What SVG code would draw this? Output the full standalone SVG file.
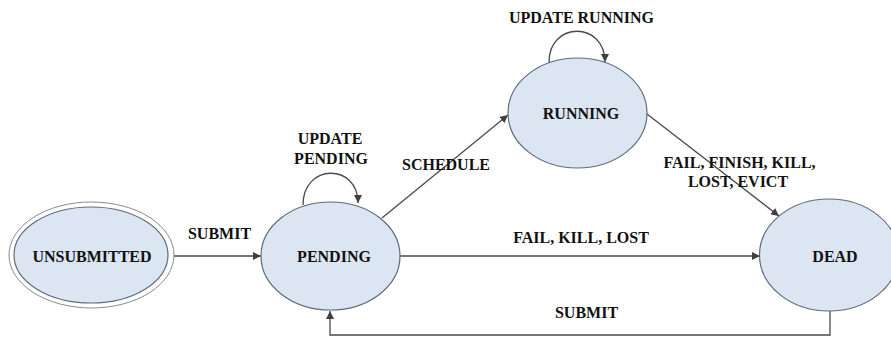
<svg xmlns="http://www.w3.org/2000/svg" width="891" height="338" viewBox="0 0 891 338">
  <defs>
    <marker id="arrow" viewBox="0 0 10 10" refX="10" refY="5" markerWidth="8" markerHeight="8" markerUnits="userSpaceOnUse" orient="auto">
      <path d="M0,0 L10,5 L0,10 Z" fill="#404040"/>
    </marker>
    <style>
      .state { fill: #dce6f2; stroke: #5f6b7a; stroke-width: 1.2; }
      .outer { fill: #ffffff; stroke: #8a8a8a; stroke-width: 1; }
      .edge { fill: none; stroke: #4a4a4a; stroke-width: 1.3; marker-end: url(#arrow); }
      text { font-family: "Liberation Serif", "Times New Roman", serif; font-weight: bold; font-size: 16px; fill: #111111; text-anchor: middle; }
    </style>
  </defs>

  <rect width="891" height="338" fill="#ffffff"/>

  <!-- transitions -->
  <g id="connectors">
    <line class="edge" x1="174" y1="256" x2="261" y2="256"/>
    <path class="edge" d="M303,205 C303,163 358,163 358,203"/>
    <line class="edge" x1="382" y1="218" x2="508" y2="115"/>
    <path class="edge" d="M549,62 C549,21 605,21 605,62"/>
    <line class="edge" x1="400" y1="256" x2="760" y2="256"/>
    <line class="edge" x1="647" y1="114" x2="779" y2="216"/>
    <polyline class="edge" points="830,310 830,335 330,335 330,311"/>
  </g>

  <!-- transition labels -->
  <g id="labels">
    <text x="219.5" y="239">SUBMIT</text>
    <text x="330" y="144">UPDATE</text>
    <text x="331" y="164">PENDING</text>
    <text x="446" y="170">SCHEDULE</text>
    <text x="581.5" y="22.5">UPDATE RUNNING</text>
    <text x="581" y="243">FAIL, KILL, LOST</text>
    <text x="739.5" y="168">FAIL, FINISH, KILL,</text>
    <text x="738" y="187">LOST, EVICT</text>
    <text x="586.5" y="318">SUBMIT</text>
  </g>

  <!-- states -->
  <g id="unsubmitted">
    <ellipse class="outer" cx="91.5" cy="255" rx="82.5" ry="53"/>
    <ellipse class="state" cx="91" cy="255" rx="77" ry="48"/>
    <text x="92" y="261.5">UNSUBMITTED</text>
  </g>
  <g id="pending">
    <ellipse class="state" cx="330.5" cy="256" rx="69.5" ry="54"/>
    <text x="334" y="261.5">PENDING</text>
  </g>
  <g id="running">
    <ellipse class="state" cx="577.5" cy="113" rx="69.5" ry="55"/>
    <text x="581" y="119">RUNNING</text>
  </g>
  <g id="dead">
    <ellipse class="state" cx="829" cy="255" rx="69.5" ry="56"/>
    <text x="835" y="261.5">DEAD</text>
  </g>
</svg>
